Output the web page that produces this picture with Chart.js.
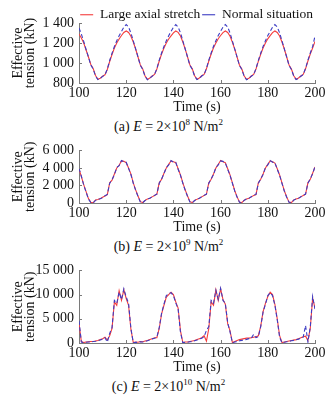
<!DOCTYPE html>
<html><head><meta charset="utf-8">
<script src="https://cdn.jsdelivr.net/npm/chart.js@4.4.0/dist/chart.umd.min.js"></script>
<style>
html,body{margin:0;padding:0;background:#fff;}
body{width:335px;height:400px;position:relative;overflow:hidden;font-family:"Liberation Serif",serif;color:#111;}
.p{position:absolute;left:0;}
.cap{position:absolute;left:0;width:335px;text-align:center;font-size:14px;line-height:14px;}
.cap sup{font-size:9px;vertical-align:6px;line-height:0;}
</style></head><body>
<div class="p" style="top:0px"><canvas id="ca" width="335" height="115"></canvas></div>
<div class="cap" style="top:120px;left:1px">(a) <i>E</i> = 2×10<sup>8</sup> N/m<sup>2</sup></div>
<div class="p" style="top:137px"><canvas id="cb" width="335" height="98"></canvas></div>
<div class="cap" style="top:240px;left:1px">(b) <i>E</i> = 2×10<sup>9</sup> N/m<sup>2</sup></div>
<div class="p" style="top:257px"><canvas id="cc" width="335" height="118"></canvas></div>
<div class="cap" style="top:380px;left:1px">(c) <i>E</i> = 2×10<sup>10</sup> N/m<sup>2</sup></div>
<script>
const seriesNames = ['Large axial stretch', 'Normal situation'];
const timeS = [100,101,102,103,104,105,106,107,108,109,110,111,112,113,114,115,116,117,118,119,120,121,122,123,124,125,126,127,128,129,130,131,132,133,134,135,136,137,138,139,140,141,142,143,144,145,146,147,148,149,150,151,152,153,154,155,156,157,158,159,160,161,162,163,164,165,166,167,168,169,170,171,172,173,174,175,176,177,178,179,180,181,182,183,184,185,186,187,188,189,190,191,192,193,194,195,196,197,198,199,200];
const xTicks = [100,120,140,160,180,200];

// (a) E = 2e8
const aLarge = [1290,1250,1200,1130,1060,985,945,875,838,848,868,882,935,1015,1085,1150,1200,1240,1275,1305,1320,1305,1268,1210,1140,1060,980,940,870,836,850,870,886,940,1020,1090,1150,1200,1240,1272,1302,1320,1306,1270,1210,1140,1060,980,942,872,838,850,872,886,942,1020,1090,1152,1200,1242,1275,1304,1320,1305,1268,1208,1138,1058,978,940,870,836,848,870,885,940,1018,1088,1150,1200,1242,1274,1304,1320,1305,1270,1210,1140,1060,980,940,872,838,850,870,886,942,1020,1090,1150,1215];
const aNormal = [1350,1290,1215,1135,1060,980,940,870,834,845,866,882,940,1025,1098,1165,1222,1272,1315,1358,1385,1360,1300,1222,1142,1060,976,936,866,832,846,868,884,944,1028,1100,1166,1222,1272,1316,1358,1384,1360,1302,1222,1140,1058,976,938,868,834,846,870,884,946,1028,1100,1168,1222,1274,1318,1358,1385,1360,1300,1220,1138,1056,974,936,866,832,845,868,883,944,1026,1098,1166,1222,1274,1316,1358,1384,1360,1302,1222,1142,1060,976,936,868,834,846,868,885,946,1028,1100,1166,1270];
const aTicks = [800,1000,1200,1400];

// (b) E = 2e9
const bLarge = [3900,3000,2100,1300,500,80,30,350,400,500,650,800,950,2300,2600,3300,4000,4300,4800,4750,4600,4000,3300,2300,1500,800,150,50,300,450,550,700,850,1000,2300,2700,3400,4000,4400,4800,4700,4600,3900,3200,2300,1500,800,150,50,300,420,550,700,850,1000,2300,2700,3300,4000,4400,4850,4700,4600,3900,3200,2300,1400,700,100,40,320,450,550,700,850,950,2300,2700,3300,4000,4400,4800,4700,4550,3900,3200,2300,1400,700,100,40,350,450,550,700,850,1000,2300,2700,3400,4100];
const bNormal = [3950,3050,2050,1250,450,60,20,300,420,480,620,820,980,2250,2650,3250,4050,4250,4850,4700,4650,3950,3250,2250,1450,750,120,30,280,470,530,720,870,1020,2250,2750,3350,4050,4350,4850,4650,4650,3850,3150,2250,1450,750,120,30,280,440,530,720,870,1020,2250,2750,3250,4050,4350,4800,4750,4550,3850,3150,2250,1350,650,80,20,300,470,530,720,870,980,2250,2750,3250,4050,4350,4850,4650,4600,3850,3150,2250,1350,650,80,20,330,470,530,720,870,1020,2250,2750,3350,4150];
const bTicks = [0,2000,4000,6000];

// (c) E = 2e10
const cLarge = [4000,300,100,200,250,300,300,400,500,700,900,1200,600,1500,3000,8500,7800,10800,8800,11000,9200,7800,2800,100,200,150,300,250,400,500,700,900,1100,1100,3000,6000,7800,9500,10000,10500,10000,8500,7200,2500,100,200,200,300,400,500,700,900,1100,1500,400,3000,8500,7800,11000,8800,11200,9000,8000,4000,2500,100,300,500,700,800,900,1000,1000,1100,1200,1300,1500,3500,6500,8200,9600,10500,10000,8000,5000,1500,100,200,300,400,500,600,700,900,1100,1300,1400,500,3000,9300,7200];
const cNormal = [4600,200,50,150,200,250,300,350,450,600,800,1100,200,2000,3200,8800,8200,10500,9000,11200,9500,8200,3000,50,150,100,250,200,350,450,650,850,1000,1200,3200,6200,8000,9800,10200,10400,9800,8300,7000,2200,50,150,150,250,300,450,600,800,1000,1300,2600,3400,8800,8200,10900,9000,11300,8800,8200,4200,2300,50,200,300,450,550,650,750,900,1000,1800,1100,1300,3400,6400,8000,9800,10400,9800,7800,4800,1200,50,150,250,350,450,550,650,800,1000,1200,3600,200,3300,9600,7000];
const cTicks = [0,5000,10000,15000];

Chart.defaults.font.family = '"Liberation Serif", serif';
Chart.defaults.font.size = 14;
Chart.defaults.color = '#111';

const RED = '#f43c3c', BLUE = '#3c3cc4', AXIS = '#7a7a7a';
function fmt(v){ return String(v).replace(/\B(?=(\d{3})+(?!\d))/g, ' '); }
function pts(vals){ return timeS.map((t,i)=>({x:t,y:vals[i]})); }

const inwardTicks = {
  id:'inwardTicks',
  afterDatasetsDraw(chart){
    const {ctx, chartArea:a, scales:{x,y}} = chart;
    ctx.save(); ctx.strokeStyle = AXIS; ctx.lineWidth = 1;
    ctx.beginPath();
    xTicks.forEach(v=>{ const px = Math.round(x.getPixelForValue(v))+0.5; ctx.moveTo(px,a.bottom); ctx.lineTo(px,a.bottom-3); });
    y.ticks.forEach(t=>{ const py = Math.round(y.getPixelForValue(t.value))+0.5; ctx.moveTo(a.left,py); ctx.lineTo(a.left+3,py); });
    ctx.stroke(); ctx.restore();
  }
};

function make(id, large, normal, yt, showLegend, padTop){
  new Chart(document.getElementById(id), {
    type:'line',
    data:{datasets:[
      {label:seriesNames[0], data:pts(large), borderColor:RED, backgroundColor:RED, borderWidth:1.1, pointRadius:0, tension:0, order:1},
      {label:seriesNames[1], data:pts(normal), borderColor:BLUE, backgroundColor:BLUE, borderWidth:1.1, borderDash:[4,2.5], pointRadius:0, tension:0, order:0}
    ]},
    options:{
      responsive:false, animation:false, devicePixelRatio:1,
      layout:{padding:{top:padTop, right:20, left:0, bottom:0}},
      plugins:{
        legend:{display:showLegend, position:'top', align:'end', maxHeight:17,
          labels:{usePointStyle:true, pointStyle:'line', pointStyleWidth:13, padding:2, boxHeight:13, color:'#111', font:{size:13.5},
            sort:(a,b)=>a.datasetIndex-b.datasetIndex}},
        tooltip:{enabled:false}
      },
      scales:{
        x:{type:'linear', min:100, max:200,
          afterBuildTicks(s){ s.ticks = xTicks.map(v=>({value:v})); },
          ticks:{padding:3, maxRotation:0, autoSkip:false, color:'#111', font:{size:14, lineHeight:1}},
          grid:{display:false, drawTicks:false},
          border:{display:true, color:AXIS, width:1},
          title:{display:true, text:'Time (s)', color:'#111', font:{size:14, lineHeight:1}, padding:{top:0,bottom:1}},
          afterFit(s){ s.height = 32; }
        },
        y:{min:yt[0], max:yt[yt.length-1],
          afterBuildTicks(s){ s.ticks = yt.map(v=>({value:v})); },
          ticks:{padding:5, autoSkip:false, color:'#111', font:{size:14}, callback:(v)=>fmt(v)},
          grid:{display:false, drawTicks:false},
          border:{display:true, color:AXIS, width:1},
          title:{display:true, text:['Effective','tension (kN)'], color:'#111', font:{size:14, lineHeight:0.85}, padding:{top:12,bottom:0}},
          afterFit(s){ s.width = 79; }
        }
      }
    },
    plugins:[inwardTicks]
  });
}
make('ca', aLarge, aNormal, aTicks, true, 6);
make('cb', bLarge, bNormal, bTicks, false, 8);
make('cc', cLarge, cNormal, cTicks, false, 8);
</script>
</body></html>
